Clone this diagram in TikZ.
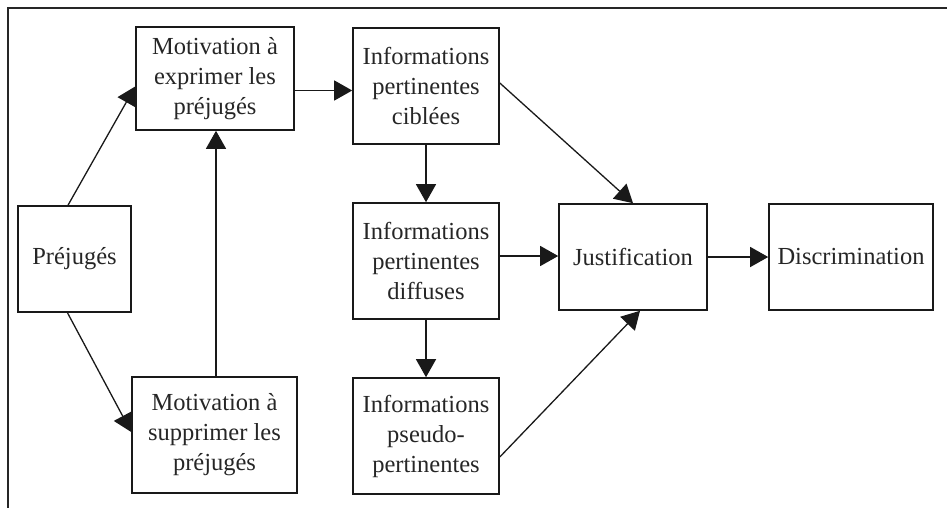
\documentclass[tikz,border=0pt]{standalone}
\usepackage{fontspec}
\setmainfont{Liberation Serif}
\usetikzlibrary{arrows.meta}
\begin{document}
\begin{tikzpicture}[x=1pt,y=-1pt,
  box/.style={draw=black!90,line width=1.6pt,inner sep=0pt,align=center,
    font=\fontsize{24.5}{30}\selectfont,text=black!85},
  conn/.style={line width=1.3pt,draw=black!90,
    -{Triangle[length=18pt,width=20pt]}}]
\useasboundingbox (0,0) rectangle (947,508);
\coordinate (fa) at (8,508);
\coordinate (fb) at (8,8);
\coordinate (fc) at (947,8);
\draw[line width=1.8pt,black!85] (fa) -- (fb) -- (fc);
\node[box,minimum width=113pt,minimum height=106pt] (prej) at (74.5,259) {Préjugés};
\node[box,minimum width=158pt,minimum height=103pt] (mexp) at (215,78.5) {Motivation à\\exprimer les\\préjugés};
\node[box,minimum width=165pt,minimum height=116pt] (msup) at (214.5,435) {Motivation à\\supprimer les\\préjugés};
\node[box,minimum width=146pt,minimum height=116pt] (cib) at (426,86) {Informations\\pertinentes\\ciblées};
\node[box,minimum width=146pt,minimum height=116pt] (dif) at (426,261) {Informations\\pertinentes\\diffuses};
\node[box,minimum width=146pt,minimum height=116pt] (pse) at (426,436) {Informations\\pseudo-\\pertinentes};
\node[box,minimum width=148pt,minimum height=106pt] (jus) at (633,257) {Justification};
\node[box,minimum width=164pt,minimum height=106pt] (dis) at (851,257) {Discrimination};
\draw[conn] ([xshift=-6.5pt]prej.north) -- ([yshift=-8pt]mexp.west);
\draw[conn] ([xshift=-7pt]prej.south) -- ([yshift=3pt]msup.west);
\draw[conn] ([xshift=1.5pt]msup.north) -- ([xshift=1pt]mexp.south);
\draw[conn] ([yshift=-12pt]mexp.east) -- ([yshift=-12pt]mexp.east -| cib.west);
\draw[conn] (cib.south) -- (dif.north);
\draw[conn] (dif.south) -- (pse.north);
\draw[conn] ([yshift=3pt]cib.east) -- (jus.north);
\draw[conn] ([yshift=5pt]dif.east) -- ([yshift=5pt]dif.east -| jus.west);
\draw[conn] ([yshift=-21pt]pse.east) -- ([xshift=7pt]jus.south);
\draw[conn] (jus.east) -- (dis.west);
\end{tikzpicture}
\end{document}
